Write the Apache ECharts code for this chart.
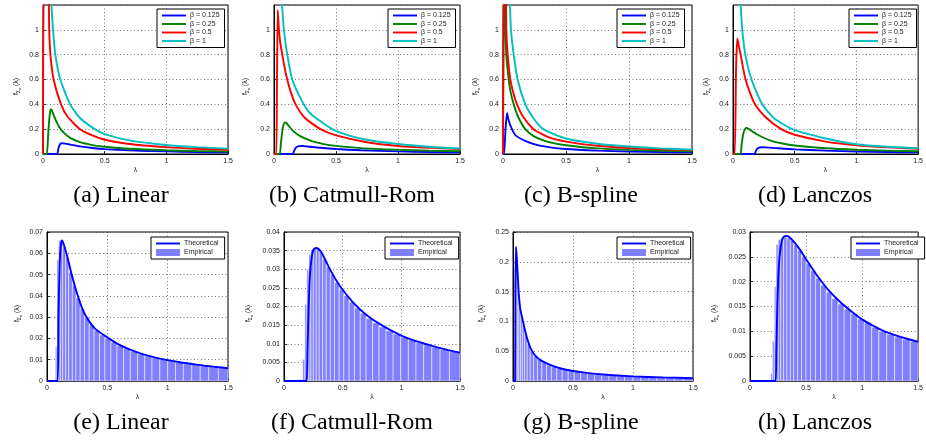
<!DOCTYPE html>
<html>
<head>
<meta charset="utf-8">
<script src="https://cdn.jsdelivr.net/npm/echarts/dist/echarts.min.js"></script>
<style>
  html, body { margin: 0; background: #fff; }
  #chart { width: 926px; height: 443px; }
</style>
</head>
<body>
<div id="chart"></div>
<script>
// ---- data ----
const betaNames = ['β = 0.125', 'β = 0.25', 'β = 0.5', 'β = 1'];
const captions = ['(a) Linear', '(b) Catmull-Rom', '(c) B-spline', '(d) Lanczos',
                  '(e) Linear', '(f) Catmull-Rom', '(g) B-spline', '(h) Lanczos'];

// top row: [lambda, density] for beta = 0.125, 0.25, 0.5, 1
const linearBlue  = [[0,0],[0.113,0],[0.125,0.045],[0.138,0.078],[0.154,0.086],[0.18,0.084],[0.22,0.076],[0.3,0.061],[0.4,0.048],[0.5,0.039],[0.7,0.029],[1.0,0.021],[1.25,0.016],[1.5,0.013]];
const linearGreen = [[0,0],[0.03,0],[0.04,0.12],[0.05,0.27],[0.06,0.35],[0.067,0.36],[0.08,0.33],[0.1,0.28],[0.13,0.22],[0.17,0.17],[0.22,0.13],[0.3,0.095],[0.4,0.072],[0.5,0.058],[0.7,0.042],[1.0,0.03],[1.25,0.024],[1.5,0.02]];
const linearRed   = [[0,0],[0.004,0],[0.008,1.3],[0.045,1.25],[0.05,1.0],[0.06,0.8],[0.086,0.6],[0.146,0.4],[0.2,0.3],[0.3,0.2],[0.4,0.15],[0.5,0.115],[0.7,0.08],[1.0,0.055],[1.25,0.042],[1.5,0.034]];
const linearCyan  = [[0.06,1.3],[0.068,1.2],[0.081,1.0],[0.1,0.8],[0.14,0.6],[0.22,0.4],[0.3,0.29],[0.42,0.2],[0.5,0.16],[0.7,0.11],[1.0,0.072],[1.25,0.055],[1.5,0.043]];

const catmullBlue  = [[0,0],[0.15,0],[0.16,0.02],[0.175,0.05],[0.2,0.063],[0.23,0.064],[0.27,0.06],[0.35,0.052],[0.5,0.04],[0.7,0.03],[1.0,0.021],[1.25,0.016],[1.5,0.013]];
const catmullGreen = [[0,0],[0.045,0],[0.055,0.08],[0.065,0.17],[0.075,0.23],[0.088,0.255],[0.1,0.25],[0.12,0.225],[0.15,0.19],[0.2,0.15],[0.3,0.105],[0.4,0.08],[0.5,0.065],[0.7,0.047],[1.0,0.034],[1.25,0.027],[1.5,0.022]];
const catmullRed   = [[0,0],[0.018,0],[0.024,0.6],[0.03,1.16],[0.04,1.0],[0.05,0.9],[0.067,0.8],[0.085,0.7],[0.107,0.6],[0.135,0.5],[0.174,0.4],[0.25,0.29],[0.375,0.2],[0.5,0.15],[0.75,0.095],[1.0,0.065],[1.25,0.05],[1.5,0.04]];
const catmullCyan  = [[0.06,1.3],[0.065,1.2],[0.08,1.0],[0.107,0.8],[0.147,0.6],[0.24,0.4],[0.3,0.32],[0.47,0.2],[0.6,0.15],[0.75,0.115],[1.0,0.08],[1.25,0.058],[1.5,0.044]];

const bsplineBlue  = [[0,0],[0.008,0],[0.02,0.2],[0.032,0.33],[0.045,0.27],[0.071,0.2],[0.1,0.15],[0.19,0.1],[0.3,0.065],[0.5,0.04],[0.75,0.027],[1.0,0.02],[1.25,0.016],[1.5,0.013]];
const bsplineGreen = [[0,0],[0.004,0],[0.008,1.3],[0.015,1.3],[0.018,1.05],[0.026,0.8],[0.045,0.6],[0.06,0.5],[0.085,0.4],[0.12,0.3],[0.177,0.2],[0.25,0.14],[0.35,0.1],[0.5,0.07],[0.75,0.045],[1.0,0.033],[1.25,0.026],[1.5,0.021]];
const bsplineRed   = [[0,0],[0.003,0],[0.006,1.3],[0.022,1.3],[0.026,1.0],[0.037,0.8],[0.058,0.6],[0.08,0.5],[0.111,0.4],[0.16,0.3],[0.243,0.2],[0.35,0.14],[0.5,0.1],[0.75,0.066],[1.0,0.048],[1.25,0.038],[1.5,0.031]];
const bsplineCyan  = [[0.05,1.3],[0.055,1.2],[0.063,1.0],[0.085,0.8],[0.116,0.6],[0.177,0.4],[0.24,0.29],[0.32,0.2],[0.5,0.125],[0.75,0.083],[1.0,0.06],[1.25,0.045],[1.5,0.035]];

const lanczosBlue  = [[0,0],[0.175,0],[0.185,0.025],[0.2,0.045],[0.23,0.054],[0.27,0.053],[0.35,0.047],[0.5,0.037],[0.75,0.027],[1.0,0.02],[1.25,0.016],[1.5,0.013]];
const lanczosGreen = [[0,0],[0.06,0],[0.07,0.08],[0.085,0.17],[0.1,0.205],[0.11,0.21],[0.13,0.2],[0.16,0.18],[0.2,0.155],[0.3,0.11],[0.4,0.085],[0.5,0.068],[0.75,0.046],[1.0,0.034],[1.25,0.027],[1.5,0.022]];
const lanczosRed   = [[0,0],[0.014,0],[0.025,0.7],[0.035,0.93],[0.045,0.88],[0.062,0.8],[0.08,0.7],[0.102,0.6],[0.135,0.5],[0.178,0.4],[0.26,0.3],[0.39,0.2],[0.5,0.155],[0.75,0.1],[1.0,0.07],[1.25,0.053],[1.5,0.042]];
const lanczosCyan  = [[0.058,1.3],[0.062,1.2],[0.075,1.0],[0.1,0.8],[0.15,0.6],[0.237,0.4],[0.33,0.29],[0.48,0.2],[0.75,0.125],[1.0,0.078],[1.25,0.058],[1.5,0.047]];

// bottom row: theoretical curves
const linearTheory  = [[0,0],[0.088,0],[0.095,0.03],[0.105,0.055],[0.115,0.064],[0.125,0.066],[0.14,0.064],[0.17,0.058],[0.2,0.051],[0.25,0.041],[0.3,0.033],[0.35,0.028],[0.4,0.0245],[0.5,0.0205],[0.6,0.017],[0.7,0.0145],[0.8,0.0125],[0.9,0.011],[1.0,0.0098],[1.1,0.0088],[1.2,0.008],[1.3,0.0072],[1.4,0.0066],[1.5,0.006]];
const catmullTheory = [[0,0],[0.19,0],[0.2,0.008],[0.21,0.02],[0.22,0.028],[0.235,0.033],[0.25,0.0352],[0.27,0.0357],[0.29,0.0356],[0.32,0.0345],[0.36,0.032],[0.4,0.0295],[0.45,0.0268],[0.5,0.0245],[0.6,0.0207],[0.7,0.0178],[0.8,0.0156],[0.9,0.0138],[1.0,0.0122],[1.1,0.011],[1.2,0.01],[1.3,0.0091],[1.4,0.0083],[1.5,0.0076]];
const bsplineTheory = [[0,0],[0.018,0],[0.02,0.15],[0.024,0.225],[0.03,0.212],[0.035,0.195],[0.047,0.15],[0.06,0.122],[0.083,0.1],[0.1,0.085],[0.117,0.072],[0.144,0.056],[0.18,0.044],[0.228,0.035],[0.31,0.027],[0.4,0.021],[0.5,0.0168],[0.6,0.014],[0.75,0.0108],[1.0,0.0077],[1.25,0.006],[1.5,0.0047]];
const lanczosTheory = [[0,0],[0.228,0],[0.235,0.006],[0.245,0.016],[0.26,0.024],[0.28,0.0278],[0.3,0.029],[0.33,0.0292],[0.36,0.0288],[0.4,0.0278],[0.45,0.0263],[0.5,0.0245],[0.6,0.0212],[0.7,0.0183],[0.8,0.016],[0.9,0.0141],[1.0,0.0124],[1.1,0.0111],[1.2,0.01],[1.3,0.0092],[1.4,0.0085],[1.5,0.0079]];

// bottom row: empirical histograms (bin edges and heights)
const linearEdges   = [0.069,0.083,0.097,0.111,0.13,0.155,0.18,0.21,0.24,0.275,0.31,0.35,0.39,0.435,0.48,0.53,0.58,0.635,0.69,0.75,0.81,0.87,0.935,1.0,1.065,1.13,1.2,1.27,1.34,1.42,1.5];
const linearHeights = [0.016,0.057,0.066,0.066,0.063,0.058,0.051,0.045,0.039,0.034,0.0298,0.0263,0.0238,0.0216,0.0201,0.0183,0.0166,0.0152,0.0139,0.0127,0.0117,0.0109,0.0101,0.0094,0.0087,0.0081,0.0076,0.0071,0.0066,0.0062];
const catmullEdges   = [0.11,0.16,0.178,0.195,0.212,0.229,0.25,0.275,0.3,0.33,0.36,0.395,0.43,0.47,0.51,0.555,0.6,0.65,0.7,0.755,0.81,0.87,0.93,0.995,1.06,1.125,1.19,1.26,1.33,1.41,1.5];
const catmullHeights = [0.0004,0.0058,0.0205,0.030,0.034,0.0352,0.0356,0.0355,0.0345,0.0327,0.0306,0.0286,0.0264,0.0246,0.0229,0.0212,0.0196,0.0182,0.0168,0.0156,0.0145,0.0135,0.0126,0.0117,0.011,0.0103,0.0097,0.0091,0.0085,0.0079];
const bsplineEdges   = [0.018,0.026,0.036,0.048,0.062,0.078,0.096,0.118,0.144,0.172,0.204,0.24,0.28,0.32,0.365,0.41,0.46,0.51,0.565,0.62,0.68,0.74,0.8,0.865,0.93,1.0,1.065,1.135,1.2,1.27,1.345,1.42,1.5];
const bsplineHeights = [0.2,0.2,0.16,0.13,0.11,0.093,0.078,0.062,0.05,0.042,0.036,0.031,0.027,0.024,0.021,0.019,0.017,0.0152,0.0138,0.0125,0.0113,0.0103,0.0094,0.0087,0.008,0.0074,0.0068,0.0063,0.0059,0.0055,0.0051,0.0047];
const lanczosEdges   = [0.185,0.2,0.217,0.233,0.252,0.275,0.3,0.33,0.36,0.39,0.425,0.46,0.5,0.54,0.585,0.63,0.68,0.73,0.785,0.84,0.9,0.96,1.02,1.085,1.15,1.22,1.29,1.36,1.43,1.5];
const lanczosHeights = [0.0015,0.008,0.019,0.0275,0.0285,0.0288,0.0289,0.0288,0.0283,0.0274,0.0263,0.025,0.0236,0.0222,0.0207,0.0193,0.0179,0.0166,0.0155,0.0145,0.0135,0.0125,0.0117,0.0108,0.01,0.0094,0.0089,0.0084,0.008];

const yMax  = [1.2, 1.2, 1.2, 1.2, 0.07, 0.04, 0.25, 0.03];
const yStep = [0.2, 0.2, 0.2, 0.2, 0.01, 0.005, 0.05, 0.005];

// ---- layout ----
const gridBoxes  = [[43,5,185,149],[274,5,186,149],[503,5,189,149],[733,5,186,149],
                    [47,232,181,149],[284,232,176,149],[513,232,180,149],[750,232,175,149]];
const legendPos  = [[157,9],[388,9],[617,9],[849,9],[151,237],[385,237],[617,237],[851,237]];
const captionPos = [[121,196],[352,196],[581,196],[815,196],[121,423],[352,423],[581,423],[815,423]];
const yNameGap   = [21,23,22,21,24,30,26,30];

const lineColors = ['#0000ff', '#008000', '#ff0000', '#00bfbf'];
const sans = 'Liberation Sans';
const lineIcon = 'path://M0,0L24,0L24,1.9L0,1.9Z';

const topCurves = [
  [linearBlue, linearGreen, linearRed, linearCyan],
  [catmullBlue, catmullGreen, catmullRed, catmullCyan],
  [bsplineBlue, bsplineGreen, bsplineRed, bsplineCyan],
  [lanczosBlue, lanczosGreen, lanczosRed, lanczosCyan]
];
const theory = [linearTheory, catmullTheory, bsplineTheory, lanczosTheory];
const hists = [[linearEdges, linearHeights], [catmullEdges, catmullHeights],
               [bsplineEdges, bsplineHeights], [lanczosEdges, lanczosHeights]];

function toBins(edges, heights) {
  return heights.map(function (h, i) { return [edges[i], edges[i + 1], h]; });
}

function renderBin(params, api) {
  var top = api.coord([api.value(0), api.value(2)]);
  var bot = api.coord([api.value(1), 0]);
  return {
    type: 'rect',
    shape: { x: top[0], y: top[1], width: bot[0] - top[0], height: bot[1] - top[1] },
    style: { fill: '#8080ff', stroke: '#ffffff', lineWidth: 0.5 }
  };
}

const grids = [], xAxes = [], yAxes = [], series = [], legends = [], graphics = [];

for (let i = 0; i < 8; i++) {
  const b = gridBoxes[i];
  grids.push({ left: b[0], top: b[1], width: b[2], height: b[3],
    show: true, borderColor: '#000', borderWidth: 1, backgroundColor: '#fff' });

  xAxes.push({
    gridIndex: i, type: 'value', min: 0, max: 1.5, interval: 0.5,
    name: 'λ', nameLocation: 'middle', nameGap: 13,
    nameTextStyle: { fontSize: 7, color: '#222', fontFamily: sans },
    axisLine: { show: true, lineStyle: { color: '#000', width: 1 } },
    axisTick: { inside: true, length: 3, lineStyle: { color: '#000', width: 0.8 } },
    axisLabel: { fontSize: 7, color: '#222', fontFamily: sans, margin: 4 },
    splitLine: { show: true, lineStyle: { type: [1, 2.5], color: '#555', width: 0.8 } }
  });

  yAxes.push({
    gridIndex: i, type: 'value', min: 0, max: yMax[i], interval: yStep[i],
    name: '{f|f}{s|Σ}{ss|x}{f| (λ)}', nameLocation: 'middle', nameGap: yNameGap[i],
    nameTextStyle: {
      color: '#222', fontFamily: sans, padding: [0, 14, 0, 0],
      rich: {
        f: { fontSize: 7, color: '#222', fontFamily: sans },
        s: { fontSize: 5, color: '#222', fontFamily: sans, padding: [4, 0, 0, 0] },
        ss: { fontSize: 4, color: '#222', fontFamily: sans, padding: [7, 0, 0, 0] }
      }
    },
    axisLine: { show: true, lineStyle: { color: '#000', width: 1 } },
    axisTick: { inside: true, length: 3, lineStyle: { color: '#000', width: 0.8 } },
    axisLabel: { fontSize: 7, color: '#222', fontFamily: sans, margin: 4,
                 showMaxLabel: i >= 4 },
    splitLine: { show: true, lineStyle: { type: [1, 2.5], color: '#555', width: 0.8 } }
  });

  const p = legendPos[i];
  legends.push({
    orient: 'vertical', left: p[0], top: p[1],
    data: i < 4 ? betaNames.map(function (n) { return { name: n, icon: lineIcon }; })
                : [{ name: 'Theoretical', icon: lineIcon }, { name: 'Empirical', icon: 'rect' }],
    backgroundColor: '#fff', borderColor: '#000', borderWidth: 1, borderRadius: 0,
    padding: i < 4 ? [3, 5, 3, 5] : [3, 6, 3, 5], itemGap: i < 4 ? 1.5 : 2,
    itemWidth: 24, itemHeight: i < 4 ? 8 : 7, selectedMode: false, symbolKeepAspect: true,
    textStyle: { fontSize: 7, color: '#222', fontFamily: sans, padding: [0, 0, 0, -1] }
  });

  graphics.push({
    type: 'text', x: captionPos[i][0], y: captionPos[i][1],
    style: { text: captions[i], fontSize: 24, fontFamily: 'Liberation Serif',
             fill: '#000', align: 'center', verticalAlign: 'middle' }
  });
}

for (let p = 0; p < 4; p++) {
  for (let k = 0; k < 4; k++) {
    series.push({
      type: 'line', name: betaNames[k], xAxisIndex: p, yAxisIndex: p,
      data: topCurves[p][k], symbol: 'none', smooth: 0.2,
      lineStyle: { color: lineColors[k], width: 1.9 },
      itemStyle: { color: lineColors[k] }, animation: false
    });
  }
}

for (let p = 0; p < 4; p++) {
  const idx = p + 4;
  series.push({
    type: 'custom', name: 'Empirical', xAxisIndex: idx, yAxisIndex: idx,
    data: toBins(hists[p][0], hists[p][1]), renderItem: renderBin,
    encode: { x: [0, 1], y: 2 }, itemStyle: { color: '#8080ff' }, animation: false
  });
  series.push({
    type: 'line', name: 'Theoretical', xAxisIndex: idx, yAxisIndex: idx,
    data: theory[p], symbol: 'none', smooth: 0.2,
    lineStyle: { color: '#0000ff', width: 1.9 }, itemStyle: { color: '#0000ff' },
    animation: false
  });
}

const chart = echarts.init(document.getElementById('chart'));
chart.setOption({
  backgroundColor: '#fff',
  animation: false,
  grid: grids,
  xAxis: xAxes,
  yAxis: yAxes,
  legend: legends,
  series: series,
  graphic: graphics
});
</script>
</body>
</html>
